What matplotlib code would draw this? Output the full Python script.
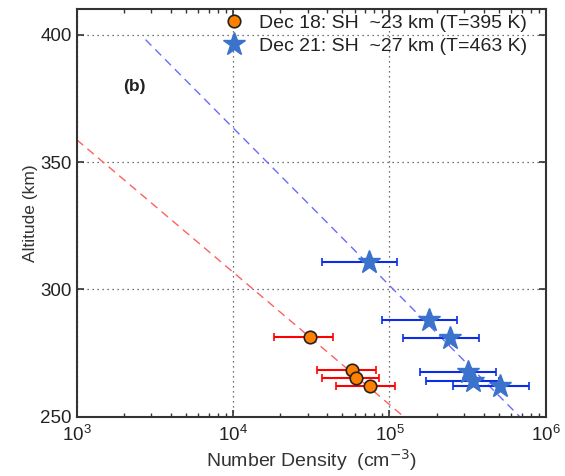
import matplotlib
matplotlib.use("Agg")
import matplotlib.pyplot as plt
import numpy as np
from matplotlib.ticker import LogLocator, NullFormatter, FixedLocator

plt.rcParams['font.family'] = ['Liberation Sans', 'DejaVu Sans']

# Dec 18 (orange circles)
d18_n = [3.08e4, 5.8e4, 6.08e4, 7.48e4]
d18_alt = [281.3, 268.4, 265.1, 262.0]
d18_lo = [1.83e4, 3.43e4, 3.68e4, 4.53e4]
d18_hi = [4.36e4, 8.2e4, 8.6e4, 1.08e5]

# Dec 21 (blue stars)
d21_n = [7.36e4, 1.79e5, 2.43e5, 3.16e5, 3.44e5, 5.09e5]
d21_alt = [310.7, 288.0, 280.8, 267.8, 264.2, 262.0]
d21_lo = [3.72e4, 8.93e4, 1.22e5, 1.56e5, 1.71e5, 2.56e5]
d21_hi = [1.12e5, 2.72e5, 3.72e5, 4.77e5, 5.0e5, 7.82e5]

# Fitted scale-height lines (endpoints)
fit18_n = [1.0e3, 1.24e5]
fit18_alt = [358.7, 250.0]
fit21_n = [2.75e3, 6.84e5]
fit21_alt = [398.0, 250.0]

labels = ["Dec 18: SH  ~23 km (T=395 K)", "Dec 21: SH  ~27 km (T=463 K)"]

fig = plt.figure(figsize=(5.65, 4.76), dpi=100)
ax = fig.add_axes([0.136, 0.124, 0.830, 0.857])

ax.plot(fit18_n, fit18_alt, ls=(0, (6, 4)), color='#ff6060', lw=1.0, zorder=2)
ax.plot(fit21_n, fit21_alt, ls=(0, (6, 4)), color='#6a6aff', lw=1.0, zorder=2)

n18 = np.array(d18_n)
n21 = np.array(d21_n)
ax.errorbar(d18_n, d18_alt, xerr=[n18 - np.array(d18_lo), np.array(d18_hi) - n18],
            fmt='none', ecolor='#ff0000', elinewidth=1.5, capsize=3, capthick=1.2, zorder=3)
ax.errorbar(d21_n, d21_alt, xerr=[n21 - np.array(d21_lo), np.array(d21_hi) - n21],
            fmt='none', ecolor='#0a2ee8', elinewidth=1.5, capsize=3, capthick=1.2, zorder=3)

h1, = ax.plot(d18_n, d18_alt, 'o', ms=9, mfc='#ff7f00', mec='#222222', mew=1.2,
              ls='none', zorder=4, label=labels[0])
h2, = ax.plot(d21_n, d21_alt, '*', ms=17, mfc='#3b72cc', mec='#3b72cc',
              ls='none', zorder=4, label=labels[1])

ax.set_xscale('log')
ax.set_xlim(1e3, 1e6)
ax.set_ylim(250, 410)
ax.yaxis.set_major_locator(FixedLocator([250, 300, 350, 400]))
ax.xaxis.set_major_locator(LogLocator(base=10, numticks=10))
ax.xaxis.set_minor_locator(LogLocator(base=10, subs=np.arange(2, 10), numticks=10))
ax.xaxis.set_minor_formatter(NullFormatter())

ax.grid(True, which='major', ls=(0, (1, 3)), color='#444444', lw=0.9)
ax.tick_params(which='both', direction='in', top=True, right=True, labelsize=13.5,
               colors='#333333', labelcolor='#222222')
ax.tick_params(axis='x', pad=6)
ax.tick_params(which='major', length=5, width=1.2)
ax.tick_params(which='minor', length=3, width=1.0)
for s in ax.spines.values():
    s.set_color('#333333')
    s.set_linewidth(1.5)

ax.set_xlabel("Number Density  (cm$^{-3}$)", fontsize=14, color='#333333', labelpad=1)
ax.set_ylabel("Altitude (km)", fontsize=12.5, color='#333333', labelpad=2)

ax.text(2.35e3, 379.5, "(b)", fontsize=12.5, fontweight='bold', ha='center', va='center', color='#222222')

leg = ax.legend(handles=[h1, h2], loc='upper right', bbox_to_anchor=(0.985, 1.015), frameon=False,
                fontsize=14, handlelength=1.0, handletextpad=0.8, borderaxespad=0.2,
                labelspacing=0.25, labelcolor='#222222')

fig.savefig("out.png", dpi=100)
